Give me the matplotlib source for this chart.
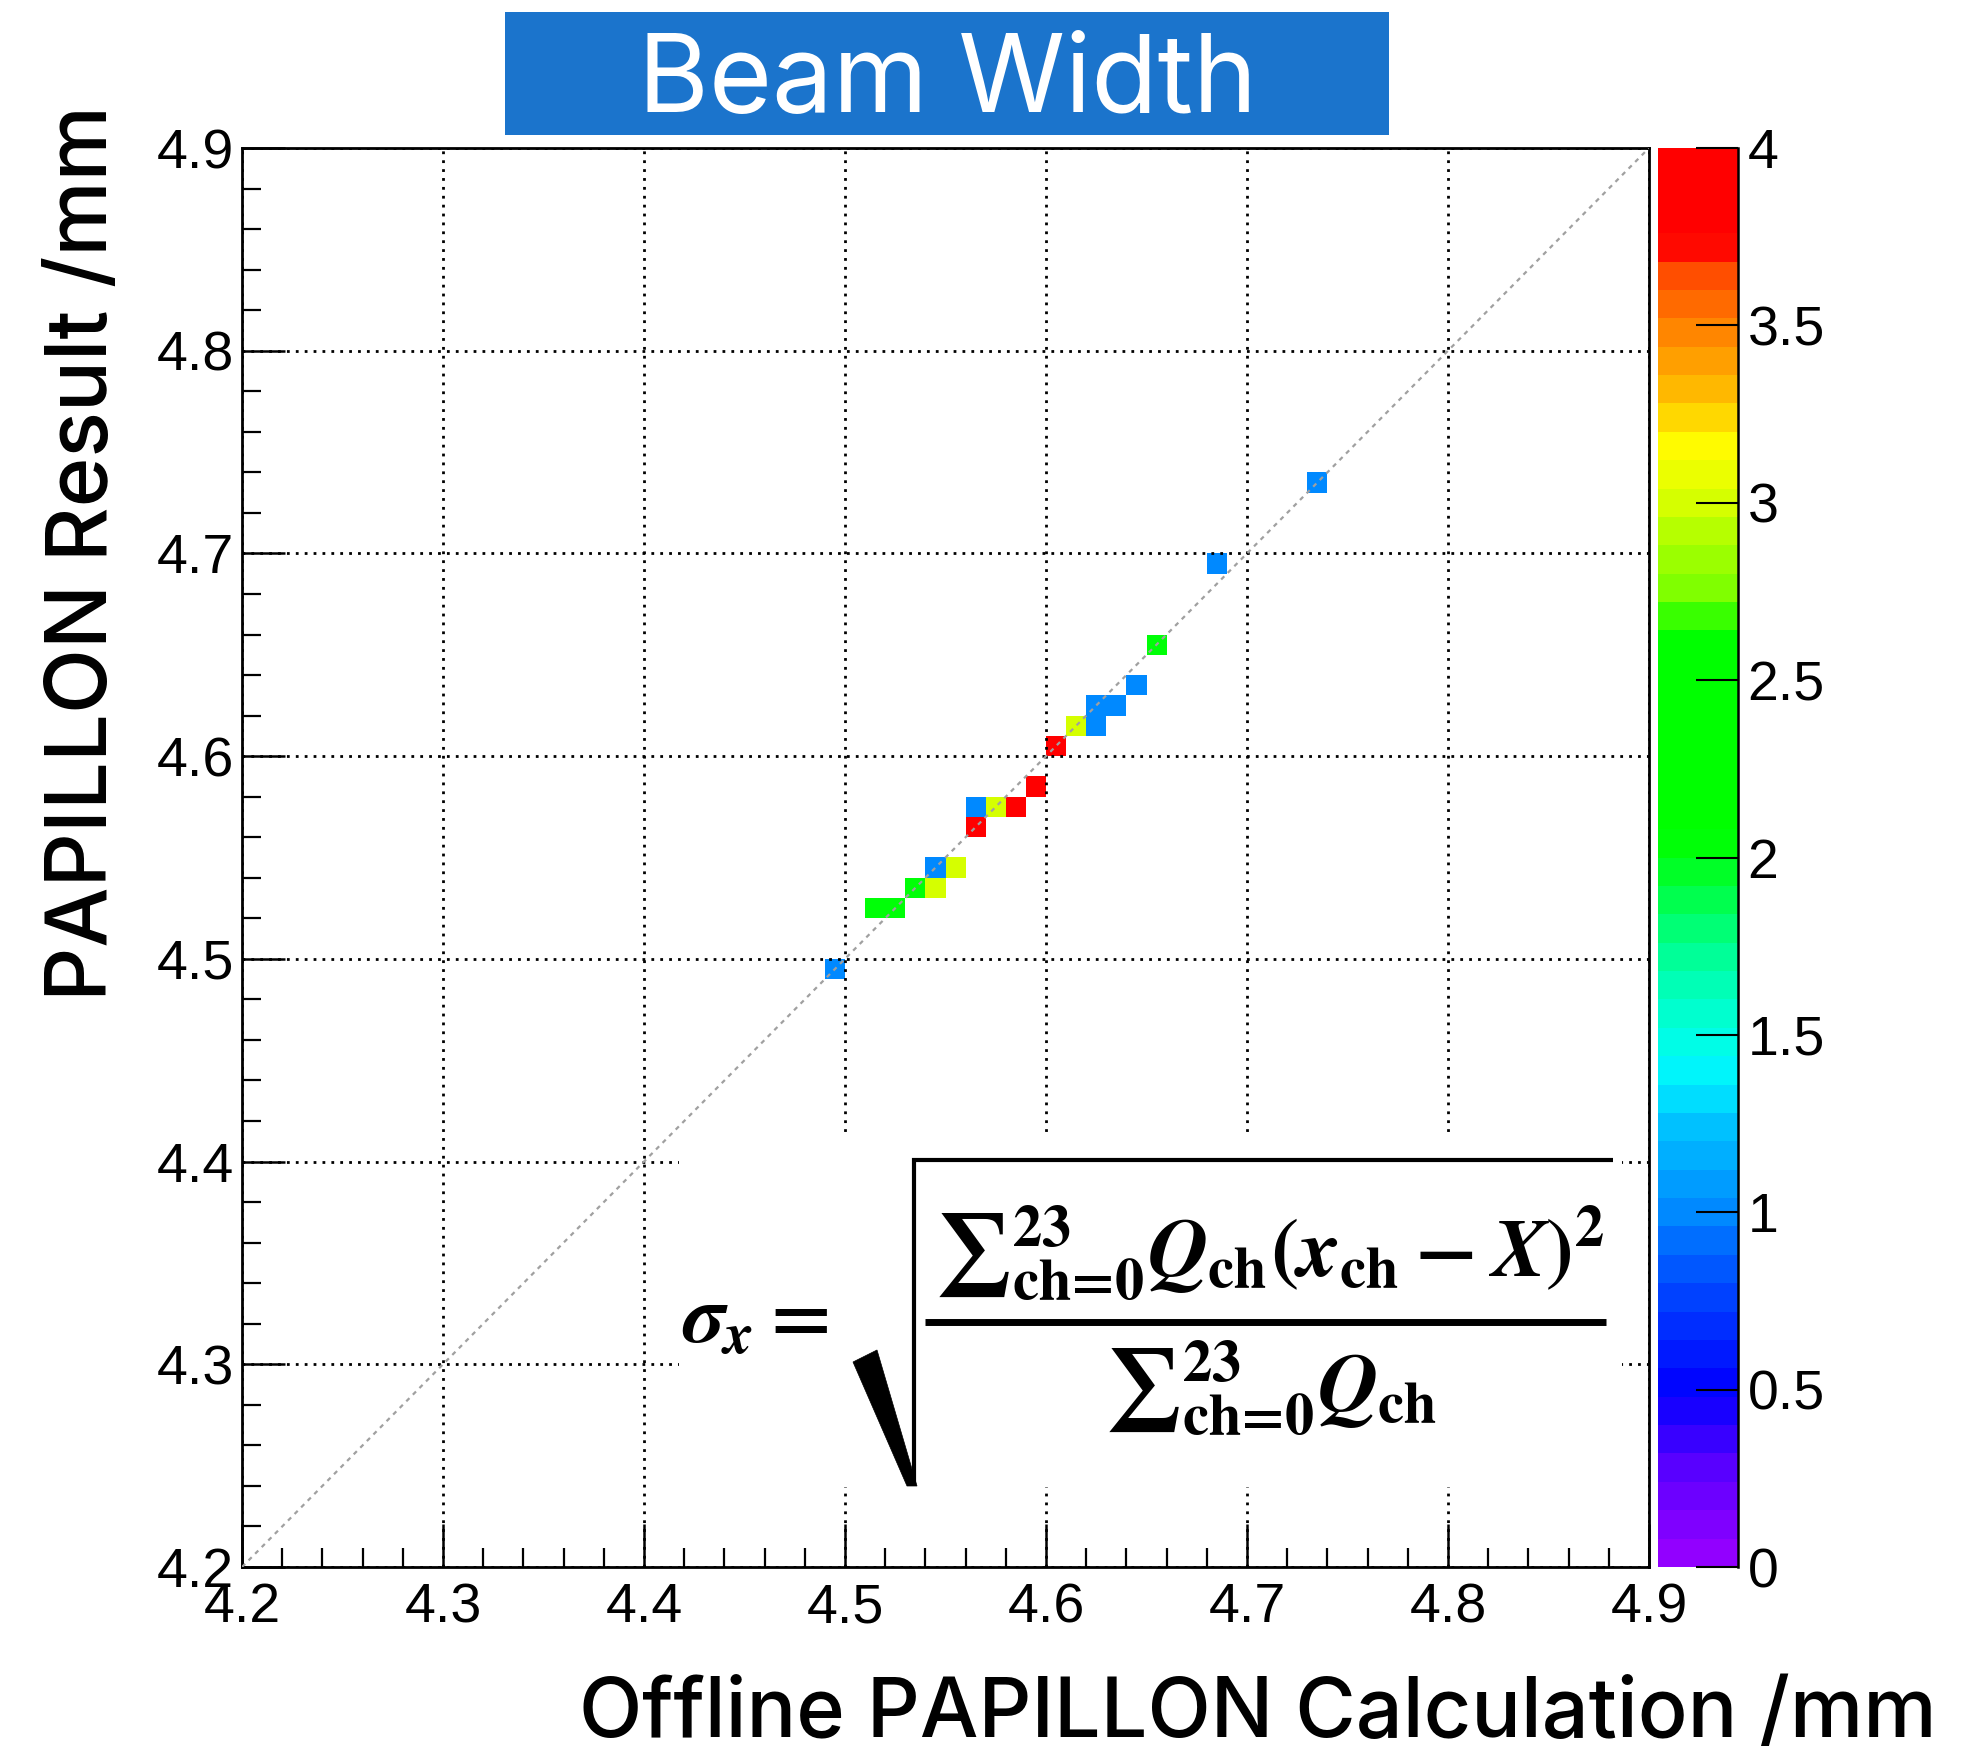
import numpy as np
import matplotlib
matplotlib.use('Agg')
import matplotlib.pyplot as plt
from matplotlib.colors import LinearSegmentedColormap, ListedColormap, Normalize
from matplotlib.patches import Rectangle, Polygon
from matplotlib.lines import Line2D
from matplotlib.ticker import FixedLocator, FixedFormatter, MultipleLocator

# ---------------- data ----------------
x_centers = [4.495, 4.515, 4.525, 4.535, 4.545, 4.545, 4.555, 4.565, 4.565, 4.575,
             4.585, 4.595, 4.605, 4.615, 4.625, 4.625, 4.635, 4.645, 4.655, 4.685, 4.735]
y_centers = [4.495, 4.525, 4.525, 4.535, 4.535, 4.545, 4.545, 4.565, 4.575, 4.575,
             4.575, 4.585, 4.605, 4.615, 4.615, 4.625, 4.625, 4.635, 4.655, 4.695, 4.735]
counts = [1, 2, 2, 2, 3, 1, 3, 4, 1, 3,
          4, 4, 4, 3, 1, 1, 1, 1, 2, 1, 1]

axis_range = [4.2, 4.9]
n_bins = 70
tick_values = [4.2, 4.3, 4.4, 4.5, 4.6, 4.7, 4.8, 4.9]
tick_labels = ['4.2', '4.3', '4.4', '4.5', '4.6', '4.7', '4.8', '4.9']
z_range = [0, 4]
cbar_ticks = [0, 0.5, 1, 1.5, 2, 2.5, 3, 3.5, 4]
cbar_labels = ['0', '0.5', '1', '1.5', '2', '2.5', '3', '3.5', '4']

title_text = 'Beam Width'
xlabel_text = 'Offline PAPILLON Calculation /mm'
ylabel_text = 'PAPILLON Result /mm'
formula_lhs = r'$\sigma_x =$'
formula_num = r'${\sum}_{\text{ch=0}}^{23}Q_{\text{ch}}(x_{\text{ch}} - X)^2$'
formula_den = r'${\sum}_{\text{ch=0}}^{23}Q_{\text{ch}}$'

# ---------------- style ----------------
plt.rcParams['font.family'] = ['Liberation Sans', 'DejaVu Sans']
plt.rcParams['mathtext.fontset'] = 'custom'
plt.rcParams['mathtext.rm'] = 'STIXGeneral:bold'
plt.rcParams['mathtext.it'] = 'STIXGeneral:italic:bold'
plt.rcParams['mathtext.bf'] = 'STIXGeneral:bold'
plt.rcParams['mathtext.fallback'] = 'stix'

palette_anchors = [
    (0.000, '#9a00ff'), (0.075, '#5000ff'), (0.125, '#0000ff'), (0.1875, '#0040ff'),
    (0.250, '#0088ff'), (0.3125, '#00c4ff'), (0.345, '#00f4ff'), (0.375, '#00ffe0'),
    (0.4375, '#00ff90'), (0.500, '#00ff14'), (0.515, '#00ff00'), (0.655, '#00ff00'),
    (0.690, '#80ff00'), (0.750, '#d2ff00'), (0.790, '#ffff00'), (0.825, '#ffc000'),
    (0.875, '#ff8000'), (0.925, '#ff3800'), (0.935, '#ff0000'), (1.000, '#ff0000'),
]
base = LinearSegmentedColormap.from_list('rootpal', palette_anchors)
cmap = ListedColormap(base((np.arange(50) + 0.5) / 50))
norm = Normalize(vmin=z_range[0], vmax=z_range[1])

W, H = 1966, 1751
fig = plt.figure(figsize=(W / 100, H / 100), dpi=100)
fig.patch.set_facecolor('white')


def fp(x, y):
    """pixel position (from top-left) -> figure fraction"""
    return x / W, 1 - y / H


ax = fig.add_axes([242 / W, 1 - 1567 / H, 1407 / W, 1419 / H])
cax = fig.add_axes([1658 / W, 1 - 1567 / H, 80 / W, 1419 / H])

hist, xe, ye = np.histogram2d(x_centers, y_centers, bins=n_bins,
                              range=[axis_range, axis_range], weights=counts)
hist = np.ma.masked_where(hist == 0, hist)
mesh = ax.pcolormesh(xe, ye, hist.T, cmap=cmap, norm=norm, zorder=1)

ax.set_xlim(axis_range)
ax.set_ylim(axis_range)
ax.xaxis.set_major_locator(FixedLocator(tick_values))
ax.xaxis.set_major_formatter(FixedFormatter(tick_labels))
ax.yaxis.set_major_locator(FixedLocator(tick_values))
ax.yaxis.set_major_formatter(FixedFormatter(tick_labels))
ax.xaxis.set_minor_locator(MultipleLocator(0.02))
ax.yaxis.set_minor_locator(MultipleLocator(0.02))
ax.tick_params(which='both', direction='in', top=False, right=False, colors='black')
ax.tick_params(which='major', length=31, width=1.8, labelsize=40)
ax.tick_params(axis='x', which='major', pad=11)
ax.tick_params(axis='y', which='major', pad=6)
ax.tick_params(which='minor', length=14, width=1.6)
for s in ax.spines.values():
    s.set_linewidth(2.0)
    s.set_color('black')

ax.set_axisbelow(False)
ax.grid(True, which='major', color='black', linestyle=(0, (1, 2.2)), linewidth=2.0)

# y = x reference line
ax.plot(axis_range, axis_range, color='#a0a0a0', linewidth=1.6,
        linestyle=(0, (2, 2.2)), zorder=4)

# white box for the formula
ax.add_patch(Rectangle((0.3106, 0.0564), 0.6704, 0.2502, transform=ax.transAxes,
                       facecolor='white', edgecolor='none', zorder=3))

# formula: sigma_x = sqrt( num / den )
fig.text(*fp(682, 1343), formula_lhs, fontsize=60, ha='left', va='baseline', zorder=6)
fig.text(*fp(1270, 1304), formula_num, fontsize=60, ha='center', va='bottom', zorder=6)
fig.text(*fp(1271, 1338), formula_den, fontsize=60, ha='center', va='top', zorder=6)
# fraction bar
x0, y0 = fp(925, 1321.5)
x1, y1 = fp(1606, 1321.5)
fig.add_artist(Line2D([x0, x1], [y0, y1], transform=fig.transFigure, color='black',
                      lw=5.0, solid_capstyle='butt', zorder=6))
# radical sign: thick tapered down-stroke, thin up-stroke, over-bar
fig.add_artist(Polygon([fp(853, 1362), fp(877, 1350), fp(917, 1486), fp(907, 1486)],
                       closed=True, transform=fig.transFigure, facecolor='black',
                       edgecolor='black', lw=0.5, zorder=6))
rad_pts = [fp(914, 1486), fp(914, 1160), fp(1613, 1160)]
fig.add_artist(Line2D([p[0] for p in rad_pts], [p[1] for p in rad_pts],
                      transform=fig.transFigure, color='black', lw=3.0,
                      solid_joinstyle='miter', solid_capstyle='butt', zorder=6))

# colorbar
cb = fig.colorbar(mesh, cax=cax, ticks=cbar_ticks)
cb.outline.set_visible(False)
cax.yaxis.set_major_formatter(FixedFormatter(cbar_labels))
cax.minorticks_off()
cax.yaxis.set_ticks_position('right')
cax.tick_params(axis='y', direction='in', length=30, width=1.5, labelsize=40, pad=7,
                colors='black')
cax.plot([1, 1], [0, 1], transform=cax.transAxes, color='black', lw=1.8,
         clip_on=False, zorder=5)

# title banner
fig.patches.append(Rectangle(fp(505, 135), 884 / W, 122.5 / H,
                             transform=fig.transFigure, facecolor='#1b74cc',
                             edgecolor='none'))
fig.text(*fp(948, 112), title_text, fontsize=78, color='white',
         ha='center', va='baseline', family=['Inter', 'DejaVu Sans'], weight='normal')

# axis labels
fig.text(*fp(1258, 1737), xlabel_text, fontsize=59.5, ha='center', va='baseline',
         family=['Inter', 'DejaVu Sans'], weight='medium')
fig.text(*fp(107, 553), ylabel_text, fontsize=61, rotation=90,
         rotation_mode='anchor', ha='center', va='baseline',
         family=['Inter', 'DejaVu Sans'], weight='medium')

fig.savefig('out.png', dpi=100, facecolor='white')
